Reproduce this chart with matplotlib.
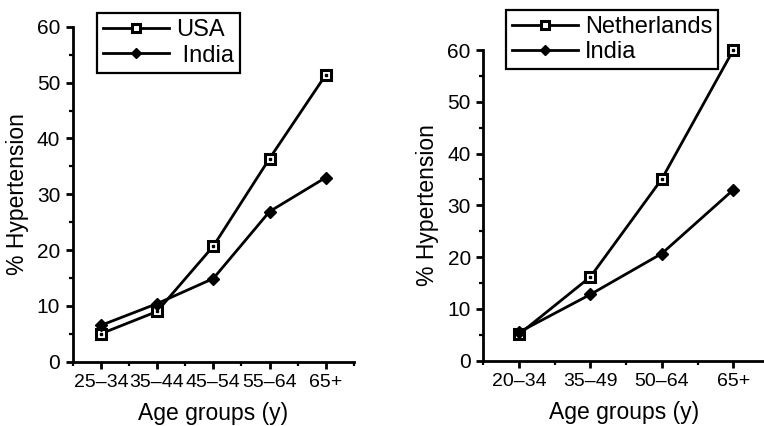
import numpy as np
import matplotlib
matplotlib.use("Agg")
import matplotlib.pyplot as plt
from matplotlib.ticker import MultipleLocator

plt.rcParams['font.family'] = ['Liberation Sans', 'DejaVu Sans']

# left panel: USA vs India
ages_left = ["25\u201334", "35\u201344", "45\u201354", "55\u201364", "65+"]
usa = [5.0, 9.0, 20.7, 36.4, 51.4]
india_left = [6.5, 10.4, 14.9, 26.9, 33.0]

# right panel: Netherlands vs India
ages_right = ["20\u201334", "35\u201349", "50\u201364", "65+"]
netherlands = [5.1, 16.2, 35.1, 60.0]
india_right = [5.5, 12.8, 20.7, 33.0]

fig = plt.figure(figsize=(7.64, 4.26), dpi=100)
ax1 = fig.add_axes([0.0952, 0.151, 0.368, 0.786])
ax2 = fig.add_axes([0.6326, 0.1533, 0.3674, 0.7293])

sq = dict(color='black', lw=2, marker='s', ms=7.5, mfc='white', mec='black', mew=2.2,
          clip_on=False, zorder=3)
dm = dict(color='black', lw=2, marker='D', ms=6, mfc='black', mec='black',
          clip_on=False, zorder=3)


def style(ax, labels, xmax):
    x = np.arange(len(labels))
    ax.set_xlim(-0.5, xmax)
    ax.set_ylim(0, 60)
    ax.set_xticks(x)
    ax.set_xticklabels(labels)
    ax.xaxis.set_minor_locator(MultipleLocator(0.5))
    ax.yaxis.set_major_locator(MultipleLocator(10))
    ax.yaxis.set_minor_locator(MultipleLocator(5))
    ax.tick_params(axis='both', which='major', length=5, width=2, direction='out', pad=4)
    ax.tick_params(axis='x', which='major', labelsize=14)
    ax.tick_params(axis='y', which='major', labelsize=15)
    ax.tick_params(axis='both', which='minor', length=3, width=1.6, direction='out')
    for s in ['top', 'right']:
        ax.spines[s].set_visible(False)
    for s in ['left', 'bottom']:
        ax.spines[s].set_linewidth(2)
    ax.set_xlabel("Age groups (y)", fontsize=16.5, labelpad=8)
    ax.set_ylabel("% Hypertension", fontsize=16.5, labelpad=6)


x1 = np.arange(len(ages_left))
l1, = ax1.plot(x1, usa, **sq)
ax1.plot(x1, usa, ls='none', marker='s', ms=2, color='black', zorder=4)
l2, = ax1.plot(x1, india_left, **dm)
style(ax1, ages_left, 4.5)
leg1 = ax1.legend([l1, l2], ["USA", " India"], loc='upper left',
                  bbox_to_anchor=(96.7 / 764, 1 - 13.3 / 426), bbox_transform=fig.transFigure,
                  fontsize=17, fancybox=False, edgecolor='black', framealpha=1,
                  handlelength=2.8, handletextpad=0.3, borderpad=0.25, labelspacing=0.15,
                  borderaxespad=0, markerscale=0.8)
leg1.get_frame().set_linewidth(1.6)

x2 = np.arange(len(ages_right))
l3, = ax2.plot(x2, netherlands, **sq)
ax2.plot(x2, netherlands, ls='none', marker='s', ms=2, color='black', zorder=4, clip_on=False)
l4, = ax2.plot(x2, india_right, **dm)
style(ax2, ages_right, 3.43)
leg2 = ax2.legend([l3, l4], ["Netherlands", "India"], loc='upper left',
                  bbox_to_anchor=(506 / 764, 1 - 10 / 426), bbox_transform=fig.transFigure,
                  fontsize=17, fancybox=False, edgecolor='black', framealpha=1,
                  handlelength=2.8, handletextpad=0.3, borderpad=0.25, labelspacing=0.15,
                  borderaxespad=0, markerscale=0.8)
leg2.get_frame().set_linewidth(1.6)

fig.savefig("out.png", dpi=100)
